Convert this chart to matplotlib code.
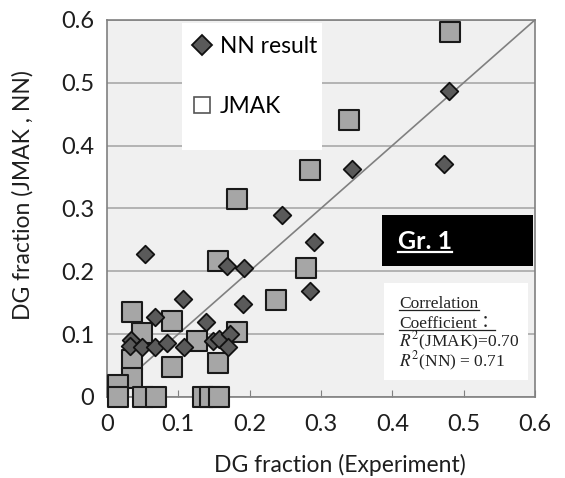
import matplotlib
matplotlib.use("Agg")
import matplotlib.pyplot as plt
from matplotlib.lines import Line2D
from matplotlib.patches import Rectangle

plt.rcParams['font.family'] = ['Lato', 'DejaVu Sans']
plt.rcParams['mathtext.fontset'] = 'stix'

# JMAK model vs experiment
jmak_exp = [0.481, 0.339, 0.285, 0.182, 0.156, 0.279, 0.237, 0.036, 0.091, 0.050,
            0.182, 0.126, 0.035, 0.092, 0.156, 0.035, 0.016, 0.016, 0.051, 0.069,
            0.135, 0.145, 0.157]
jmak_val = [0.580, 0.441, 0.361, 0.315, 0.217, 0.205, 0.154, 0.135, 0.121, 0.102,
            0.104, 0.089, 0.059, 0.048, 0.054, 0.030, 0.019, 0.0, 0.0, 0.0,
            0.0, 0.0, 0.0]

# neural network result vs experiment
nn_exp = [0.480, 0.473, 0.344, 0.245, 0.290, 0.053, 0.168, 0.192, 0.285, 0.107,
          0.191, 0.067, 0.139, 0.034, 0.032, 0.050, 0.067, 0.084, 0.108, 0.149,
          0.157, 0.172, 0.170]
nn_val = [0.487, 0.371, 0.363, 0.290, 0.247, 0.228, 0.209, 0.205, 0.169, 0.156,
          0.148, 0.127, 0.119, 0.091, 0.081, 0.080, 0.080, 0.086, 0.079, 0.089,
          0.093, 0.100, 0.080]

ticks = [0, 0.1, 0.2, 0.3, 0.4, 0.5, 0.6]
tick_labels = ['0', '0.1', '0.2', '0.3', '0.4', '0.5', '0.6']

fig = plt.figure(figsize=(5.65, 4.78), dpi=100)
ax = fig.add_axes([0.189, 0.1695, 0.758, 0.789])
ax.set_facecolor('#f0f0f0')

ax.set_xlim(0, 0.6)
ax.set_ylim(0, 0.6)
ax.set_xticks(ticks)
ax.set_xticklabels(tick_labels)
ax.set_yticks(ticks)
ax.set_yticklabels(tick_labels)
ax.tick_params(axis='x', direction='in', length=5, color='#808080', pad=12,
               labelsize=17, labelcolor='#1e1e1e')
ax.tick_params(axis='y', length=0, pad=9, labelsize=17, labelcolor='#1e1e1e')
ax.yaxis.grid(True, color='#a8a8a8', lw=1.2)
ax.set_axisbelow(True)
for s in ax.spines.values():
    s.set_color('#808080')
    s.set_linewidth(1.2)

ax.plot([0, 0.6], [0, 0.6], color='#808080', lw=1.2, zorder=2)

ax.scatter(jmak_exp, jmak_val, marker='s', s=200, facecolor='#a6a6a6',
           edgecolor='#1a1a1a', linewidth=1.5, zorder=4, clip_on=False)
ax.scatter(nn_exp, nn_val, marker='D', s=80, facecolor='#5a5a5a',
           edgecolor='#111111', linewidth=1.3, zorder=5, clip_on=False)

ax.set_xlabel('DG fraction (Experiment)', fontsize=16.5, color='#1e1e1e', va='center')
ax.xaxis.set_label_coords(0.544, -0.18)
ax.set_ylabel('DG fraction (JMAK , NN)', fontsize=16.5, color='#1e1e1e', va='center')
ax.yaxis.set_label_coords(-0.195, 0.536)

# legend panel
ax.add_patch(Rectangle((0.175, 0.655), 0.327, 0.337, transform=ax.transAxes,
                       facecolor='white', edgecolor='none', zorder=3))
handles = [Line2D([], [], ls='none', marker='D', ms=10, mfc='#5a5a5a', mec='#111111', mew=1.3),
           Line2D([], [], ls='none', marker='s', ms=11, mfc='white', mec='#555555', mew=1.2)]
leg = ax.legend(handles, ['NN result', 'JMAK'], loc='upper left',
                bbox_to_anchor=(0.142, 1.012), frameon=False, fontsize=16.4,
                labelspacing=1.7, handletextpad=0.2, handlelength=1.2)
leg.set_zorder(6)

fig.canvas.draw()
renderer = fig.canvas.get_renderer()


def underline(t, gap=2.5, lw=1.0):
    # line just below the baseline of a text placed with va='baseline'
    bb = t.get_window_extent(renderer=renderer)
    ybase = t.get_transform().transform(t.get_position())[1] - gap
    inv = fig.transFigure.inverted()
    (x0, y0), (x1, _) = inv.transform([(bb.x0, ybase), (bb.x1, ybase)])
    fig.add_artist(Line2D([x0, x1], [y0, y0], color=t.get_color(), lw=lw,
                          transform=fig.transFigure, zorder=10))


# group label
ax.add_patch(Rectangle((0.643, 0.347), 0.352, 0.136, transform=ax.transAxes,
                       facecolor='black', edgecolor='none', zorder=6))
gt = ax.text(0.680, 0.392, 'Gr. 1', transform=ax.transAxes, color='white',
             fontsize=18, fontweight='bold', va='baseline', ha='left', zorder=7)

# correlation panel
ax.add_patch(Rectangle((0.647, 0.045), 0.337, 0.257, transform=ax.transAxes,
                       facecolor='white', edgecolor='none', zorder=6))
serif = ['Liberation Serif', 'Noto Sans CJK JP']
c1 = ax.text(0.683, 0.236, 'Correlation', transform=ax.transAxes, family=serif,
             fontsize=12.5, color='#222222', va='baseline', zorder=7)
c2 = ax.text(0.683, 0.184, 'Coefficient\uff1a', transform=ax.transAxes, family=serif,
             fontsize=12.5, color='#222222', va='baseline', zorder=7)
ax.text(0.683, 0.132, r'$R^2$(JMAK)=0.70', transform=ax.transAxes, family=serif,
        fontsize=12.5, color='#222222', va='baseline', zorder=7)
ax.text(0.683, 0.080, r'$R^2$(NN) = 0.71', transform=ax.transAxes, family=serif,
        fontsize=12.5, color='#222222', va='baseline', zorder=7)

fig.canvas.draw()
underline(gt, gap=3, lw=1.6)
underline(c1, gap=2.5, lw=0.9)
underline(c2, gap=2.5, lw=0.9)

fig.savefig('out.png', dpi=100)
